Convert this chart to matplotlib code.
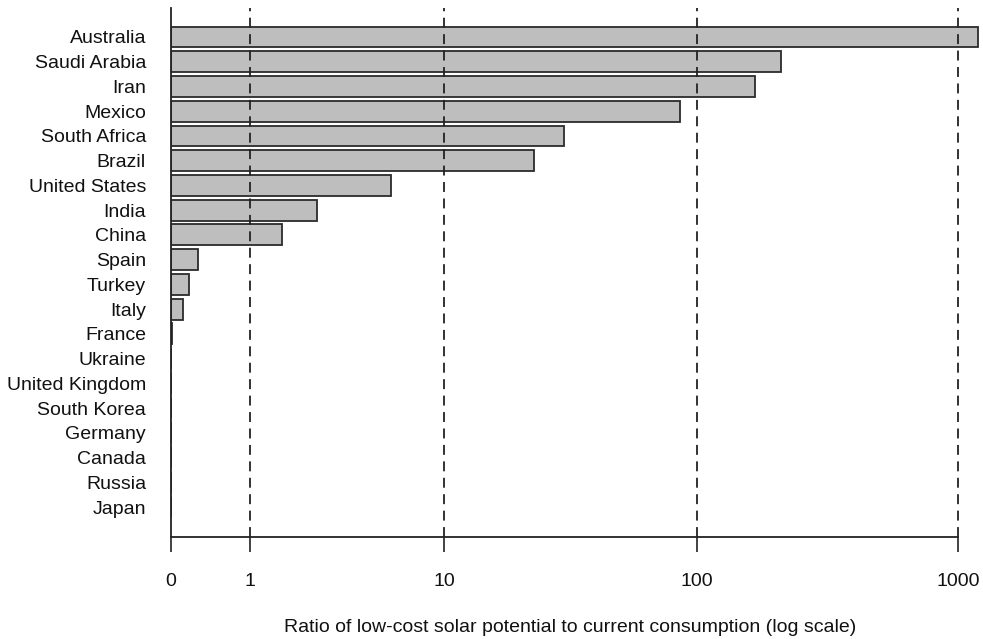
import numpy as np
import matplotlib
matplotlib.use("Agg")
import matplotlib.pyplot as plt

# ratio of low-cost solar potential to current consumption
countries = ["Australia", "Saudi Arabia", "Iran", "Mexico", "South Africa", "Brazil",
             "United States", "India", "China", "Spain", "Turkey", "Italy", "France",
             "Ukraine", "United Kingdom", "South Korea", "Germany", "Canada", "Russia", "Japan"]
ratios = [1190, 211, 167, 86, 30.5, 23.2, 5.9, 2.6, 1.66, 0.27, 0.17, 0.11, 0.01,
          0, 0, 0, 0, 0, 0, 0]
xticks = [0, 1, 10, 100, 1000]
xtick_labels = ["0", "1", "10", "100", "1000"]

plt.rcParams["font.family"] = ["Liberation Sans", "DejaVu Sans"]
FS = 14

W, H = 983, 639
fig = plt.figure(figsize=(W / 100, H / 100), dpi=100)
left, right, top, bottom = 171, 983, 8, 537
ax = fig.add_axes([left / W, 1 - bottom / H, (right - left) / W, (bottom - top) / H])

# log(1 + x) axis so that zero sits at the left edge
ax.set_xscale("function", functions=(lambda x: np.log10(1 + np.clip(x, 0, None)),
                                     lambda y: 10 ** y - 1))

ypos = np.arange(len(countries))[::-1]
ax.barh(ypos, ratios, height=0.84, color="#bebebe", edgecolor="#2b2b2b",
        linewidth=1.3, zorder=2)

for v in xticks[1:]:
    ax.axvline(v, color="#222222", lw=1.3, dashes=(5.5, 3.6), zorder=3)

ax.set_xlim(0, 1246)
ax.set_ylim(-1.21, len(countries) - 1 + 1.17)

ax.set_xticks(xticks)
ax.set_xticklabels(xtick_labels)
ax.minorticks_off()
ax.tick_params(axis="x", direction="out", length=11, width=1.2, color="#222222",
               pad=15, labelsize=FS, labelcolor="#111111")
ax.set_yticks(ypos)
ax.set_yticklabels(countries)
ax.tick_params(axis="y", length=0, pad=18, labelsize=FS, labelcolor="#111111")

for s in ["top", "right"]:
    ax.spines[s].set_visible(False)
ax.spines["bottom"].set_bounds(0, 1000)
for s in ["bottom", "left"]:
    ax.spines[s].set_linewidth(1.3)
    ax.spines[s].set_color("#222222")

fig.text(570 / W, 1 - 628 / H,
         "Ratio of low-cost solar potential to current consumption (log scale)",
         ha="center", va="center", fontsize=FS, color="#111111")

fig.savefig("out.png", dpi=100)
